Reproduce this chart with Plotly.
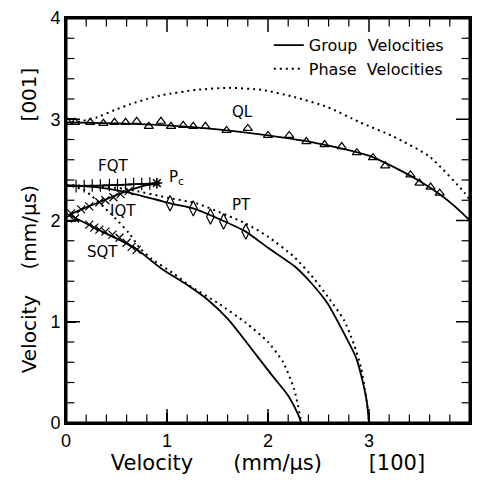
import plotly.graph_objects as go

# ---------------- data ----------------
# QL mode
ql_group_x = [0.0, 0.5, 1.0, 1.5, 2.0, 2.5, 3.0, 3.3, 3.5, 3.7, 3.85, 4.0]
ql_group_y = [2.97, 2.96, 2.94, 2.90, 2.84, 2.76, 2.64, 2.50, 2.39, 2.26, 2.14, 2.0]
ql_phase_x = [0.0, 0.15, 0.31, 0.48, 0.64, 0.8, 0.96, 1.29, 1.61, 1.94, 2.26, 2.59, 2.91, 3.24, 3.6, 3.95, 4.0]
ql_phase_y = [2.96, 2.98, 3.02, 3.09, 3.15, 3.20, 3.24, 3.29, 3.31, 3.29, 3.22, 3.12, 2.97, 2.83, 2.63, 2.27, 2.2]
ql_meas_x = [0.02, 0.09, 0.24, 0.37, 0.48, 0.59, 0.70, 0.82, 0.94, 1.04, 1.16, 1.26, 1.38,
             1.59, 1.80, 2.0, 2.21, 2.38, 2.56, 2.73, 2.88, 3.04, 3.16, 3.41, 3.50, 3.61, 3.70]
ql_meas_y = [2.97, 2.97, 2.97, 2.96, 2.97, 2.97, 2.98, 2.93, 2.98, 2.93, 2.94, 2.93, 2.93,
             2.89, 2.91, 2.84, 2.84, 2.78, 2.75, 2.73, 2.67, 2.62, 2.54, 2.45, 2.37, 2.33, 2.27]

# PT mode
pt_group_x = [0.0, 0.3, 0.6, 1.03, 1.26, 1.55, 1.78, 2.0, 2.26, 2.43, 2.59, 2.75, 2.87, 2.94, 2.98, 3.0]
pt_group_y = [2.35, 2.33, 2.28, 2.17, 2.12, 2.0, 1.89, 1.73, 1.55, 1.38, 1.18, 0.89, 0.65, 0.4, 0.2, 0.0]
pt_phase_x = [0.0, 0.3, 0.6, 1.03, 1.29, 1.78, 2.0, 2.26, 2.46, 2.59, 2.75, 2.85, 2.92, 2.96, 2.99, 3.0]
pt_phase_y = [2.35, 2.34, 2.31, 2.22, 2.17, 1.97, 1.84, 1.64, 1.42, 1.25, 1.02, 0.78, 0.55, 0.33, 0.12, 0.0]
pt_meas_x = [1.03, 1.26, 1.43, 1.56, 1.78]
pt_meas_y = [2.17, 2.12, 2.04, 1.99, 1.89]

# QT mode (phase) and its group branches FQT, IQT, SQT
qt_phase_x = [0.0, 0.18, 0.44, 0.62, 0.73, 0.85, 1.06, 1.22, 1.51, 1.78, 2.0, 2.15, 2.26, 2.33]
qt_phase_y = [2.35, 2.30, 2.07, 1.88, 1.73, 1.62, 1.48, 1.36, 1.18, 0.99, 0.8, 0.6, 0.33, 0.0]
fqt_x = [0.0, 0.3, 0.6, 0.93]
fqt_y = [2.34, 2.345, 2.355, 2.37]
iqt_x = [0.04, 0.2, 0.4, 0.6, 0.8, 0.93]
iqt_y = [2.06, 2.13, 2.21, 2.29, 2.35, 2.37]
sqt_x = [0.04, 0.2, 0.4, 0.68, 0.95, 1.19, 1.4, 1.6, 1.8, 2.04, 2.2, 2.3, 2.33]
sqt_y = [2.05, 1.97, 1.87, 1.73, 1.52, 1.37, 1.22, 1.03, 0.78, 0.47, 0.27, 0.08, 0.0]
fqt_meas_x = [0.1, 0.18, 0.26, 0.34, 0.43, 0.51, 0.59, 0.67, 0.75, 0.83]
fqt_meas_y = [2.34, 2.34, 2.345, 2.345, 2.35, 2.35, 2.355, 2.36, 2.36, 2.365]
pc_meas_x = [0.9]
pc_meas_y = [2.37]
iqt_meas_x = [0.05, 0.15, 0.23, 0.33, 0.39, 0.47, 0.54, 0.62]
iqt_meas_y = [2.07, 2.11, 2.14, 2.18, 2.20, 2.23, 2.26, 2.29]
sqt_meas_x = [0.03, 0.09, 0.23, 0.28, 0.33, 0.39, 0.46, 0.53, 0.6, 0.65, 0.70]
sqt_meas_y = [2.05, 2.02, 1.96, 1.93, 1.91, 1.89, 1.86, 1.83, 1.78, 1.74, 1.71]

mode_labels = ["QL", "FQT", "P<sub>c</sub>", "IQT", "SQT", "PT"]
label_x = [1.75, 0.47, 1.09, 0.56, 0.36, 1.74]
label_y = [3.07, 2.54, 2.42, 2.09, 1.69, 2.15]

legend_names = ["Group  Velocities", "Phase  Velocities"]
x_title = "Velocity" + "\u00a0" * 6 + "(mm/μs)" + "\u00a0" * 7 + "[100]"
y_title = "Velocity" + "\u00a0" * 4 + "(mm/μs)" + "\u00a0" * 10 + "[001]"

# axis range and tick positions
AX_MIN, AX_MAX = 0, 4
major_ticks = [0, 1, 2, 3, 4]
minor_ticks = [0.2, 0.4, 0.6, 0.8, 1.2, 1.4, 1.6, 1.8, 2.2, 2.4, 2.6, 2.8, 3.2, 3.4, 3.6, 3.8]

# ---------------- figure ----------------
TICKFONT = "Liberation Sans, Arial, Helvetica, sans-serif"
FONT = "DejaVu Sans, Liberation Sans, sans-serif"
solid = dict(color="black", width=1.8)
dotted = dict(color="black", width=2, dash="2px,4px")

fig = go.Figure()

group_curves = [(ql_group_x, ql_group_y), (pt_group_x, pt_group_y),
                (fqt_x, fqt_y), (iqt_x, iqt_y), (sqt_x, sqt_y)]
for i, (xs, ys) in enumerate(group_curves):
    fig.add_trace(go.Scatter(x=xs, y=ys, mode="lines", line=dict(solid, shape="spline", smoothing=0.6),
                             name=legend_names[0], legendgroup="g", showlegend=(i == 0), hoverinfo="skip"))
phase_curves = [(ql_phase_x, ql_phase_y), (pt_phase_x, pt_phase_y), (qt_phase_x, qt_phase_y)]
for i, (xs, ys) in enumerate(phase_curves):
    fig.add_trace(go.Scatter(x=xs, y=ys, mode="lines", line=dict(dotted, shape="spline", smoothing=0.6),
                             name=legend_names[1], legendgroup="p", showlegend=(i == 0), hoverinfo="skip"))

mk_line = dict(color="black", width=1.2)
fig.add_trace(go.Scatter(x=ql_meas_x, y=ql_meas_y, mode="markers", showlegend=False,
                         marker=dict(symbol="triangle-up-open", size=8, color="black", line=mk_line)))
fig.add_trace(go.Scatter(x=pt_meas_x, y=pt_meas_y, mode="markers", showlegend=False,
                         marker=dict(symbol="diamond-tall-open", size=11, color="black", line=mk_line)))
fig.add_trace(go.Scatter(x=fqt_meas_x, y=fqt_meas_y, mode="markers", showlegend=False,
                         marker=dict(symbol="cross-thin", size=9, color="black", line=mk_line)))
fig.add_trace(go.Scatter(x=pc_meas_x, y=pc_meas_y, mode="markers", showlegend=False,
                         marker=dict(symbol="asterisk", size=9, color="black", line=dict(color="black", width=1.6))))
fig.add_trace(go.Scatter(x=iqt_meas_x + sqt_meas_x, y=iqt_meas_y + sqt_meas_y, mode="markers", showlegend=False,
                         marker=dict(symbol="x-thin", size=8, color="black", line=mk_line)))


# inward tick marks on all four sides (the outer half of each marker is clipped by the plot area)
def tick_trace(vals, size, width):
    n = len(vals)
    fig.add_trace(go.Scatter(x=vals + vals, y=[AX_MIN] * n + [AX_MAX] * n, mode="markers",
                             marker=dict(symbol="line-ns", size=size, line=dict(color="black", width=width)),
                             showlegend=False, hoverinfo="skip", cliponaxis=True))
    fig.add_trace(go.Scatter(x=[AX_MIN] * n + [AX_MAX] * n, y=vals + vals, mode="markers",
                             marker=dict(symbol="line-ew", size=size, line=dict(color="black", width=width)),
                             showlegend=False, hoverinfo="skip", cliponaxis=True))


tick_trace(minor_ticks, 12, 1.2)
tick_trace(major_ticks, 20, 1.5)

for t, x, y in zip(mode_labels, label_x, label_y):
    fig.add_annotation(x=x, y=y, text=t, showarrow=False, font=dict(family=FONT, size=15, color="black"))

# plot frame
fig.add_shape(type="rect", xref="paper", yref="paper", x0=0, y0=0, x1=1, y1=1,
              line=dict(color="black", width=3))

axis_common = dict(
    range=[AX_MIN, AX_MAX], tickmode="array", tickvals=major_ticks, ticktext=[str(v) for v in major_ticks],
    ticks="inside", ticklen=10, tickwidth=1.5, tickcolor="black",
    showline=True, linewidth=2, linecolor="black", mirror=True,
    showgrid=False, zeroline=False, automargin=False,
    tickfont=dict(family=TICKFONT, size=18, color="black"),
)

fig.update_layout(
    width=464, height=470, margin=dict(l=58, r=2, t=10, b=55),
    paper_bgcolor="white", plot_bgcolor="rgba(0,0,0,0)",
    font=dict(family=FONT, color="black"),
    xaxis=dict(**axis_common,
               title=dict(text=x_title, font=dict(family=FONT, size=21, color="black"), standoff=4)),
    yaxis=dict(**axis_common,
               title=dict(text=y_title, font=dict(family=FONT, size=20, color="black"), standoff=8)),
    legend=dict(x=0.502, y=0.975, xanchor="left", yanchor="top", bgcolor="rgba(0,0,0,0)",
                font=dict(family=FONT, size=16, color="black"), tracegroupgap=0, itemwidth=30),
)

fig.write_html("out.html")
